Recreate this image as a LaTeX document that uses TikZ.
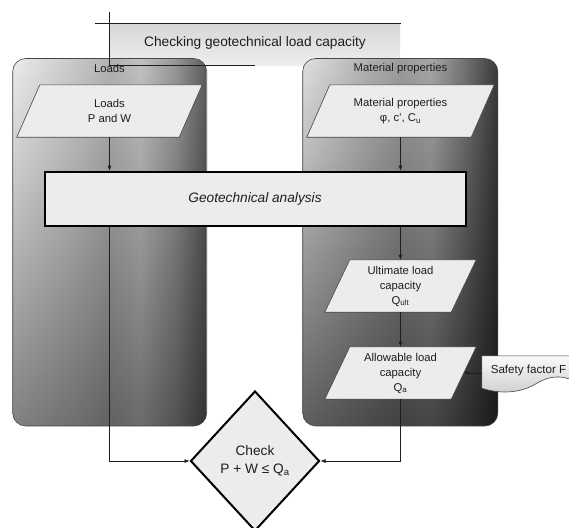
\documentclass[tikz,border=0pt]{standalone}
\usepackage{fontspec}
\setmainfont{Liberation Sans}
\usetikzlibrary{arrows.meta,shapes.geometric,fadings,calc}

\pgfdeclarelayer{lanes}
\pgfdeclarelayer{fills}
\pgfsetlayers{lanes,fills,main}

\definecolor{ink}{RGB}{30,30,30}
\definecolor{shapefill}{RGB}{236,236,236}
\definecolor{rim}{RGB}{70,70,70}

% left lane, left to right
\definecolor{la}{RGB}{236,236,236}
\definecolor{lb}{RGB}{198,198,198}
\definecolor{lc}{RGB}{178,178,178}
\definecolor{ld}{RGB}{194,194,194}
\definecolor{le}{RGB}{150,150,150}
\definecolor{lf}{RGB}{92,92,92}
\pgfdeclarehorizontalshading{loadlane}{100bp}{color(0bp)=(la); color(25bp)=(la); color(42bp)=(lb); color(50bp)=(lc); color(58bp)=(ld); color(67bp)=(le); color(75bp)=(lf); color(100bp)=(lf)}

% right lane, left to right
\definecolor{ra}{RGB}{224,224,224}
\definecolor{rb}{RGB}{176,176,176}
\definecolor{rc}{RGB}{156,156,156}
\definecolor{rd}{RGB}{166,166,166}
\definecolor{re}{RGB}{112,112,112}
\definecolor{rf}{RGB}{58,58,58}
\pgfdeclarehorizontalshading{matlane}{100bp}{color(0bp)=(ra); color(25bp)=(ra); color(42bp)=(rb); color(50bp)=(rc); color(58bp)=(rd); color(67bp)=(re); color(75bp)=(rf); color(100bp)=(rf)}

\tikzfading[name=darkenL, top color=transparent!100, bottom color=transparent!55]
\tikzfading[name=darkenR, top color=transparent!100, bottom color=transparent!42]

\begin{document}
\begin{tikzpicture}[x=1pt,y=-1pt,
  txt/.style={font=\fontsize{11.3}{15}\selectfont, text=ink, align=center},
  paranode/.style={txt, inner sep=0pt},
  flow/.style={draw=ink, line width=0.6pt, -{Latex[length=5pt,width=4pt]}},
  paraedge/.style={draw=rim, line width=0.6pt, fill=shapefill},
  lanebox/.style={rounded corners=13pt},
  bannerline/.style={draw=ink, line width=0.8pt}
]
\useasboundingbox (0,0) rectangle (569,527);

% swimlanes and the title banner
\begin{pgfonlayer}{lanes}
  \fill[top color=gray!32, bottom color=gray!14] (109,23.3) rectangle (400,65);
  \path[lanebox, shading=loadlane] (12.7,58.5) rectangle (206.7,426);
  \fill[lanebox, black, path fading=darkenL] (12.7,58.5) rectangle (206.7,426);
  \draw[lanebox, draw=rim, line width=0.6pt] (12.7,58.5) rectangle (206.7,426);
  \path[lanebox, shading=matlane] (302.7,58.5) rectangle (497.8,426);
  \fill[lanebox, black, path fading=darkenR] (302.7,58.5) rectangle (497.8,426);
  \draw[lanebox, draw=rim, line width=0.6pt] (302.7,58.5) rectangle (497.8,426);
\end{pgfonlayer}

\draw[bannerline] (109,11.7) -- (109,65);
\draw[bannerline] (95,23.3) -- (401,23.3);
\draw[bannerline] (109,65) -- (255,65);
\node[font=\fontsize{13.7}{16}\selectfont, text=ink] (title) at (255,43.3) {Checking geotechnical load capacity};

\node[txt] (laneL) at (109.5,68.5) {Loads};
\node[txt] (laneR) at (400.5,68.5) {Material properties};

% flow nodes
\node[paranode, minimum width=162pt, minimum height=52pt] (loads) at (109.5,111) {Loads\\P and W};
\node[paranode, minimum width=164pt, minimum height=52pt] (matin) at (400.5,111) {Material properties\\φ, c’, C\textsubscript{u}};
\node[draw=black, line width=2pt, fill=shapefill, minimum width=421pt, minimum height=54pt,
      font=\fontsize{13.7}{16}\selectfont\itshape, text=ink] (geo) at (255,198.7) {Geotechnical analysis};
\node[paranode, minimum width=126pt, minimum height=52pt] (ult) at (400.5,286) {Ultimate load\\capacity\\Q\textsubscript{ult}};
\node[paranode, minimum width=126pt, minimum height=52pt] (allow) at (400.5,373) {Allowable load\\capacity\\Q\textsubscript{a}};
\node[txt, font=\fontsize{11.6}{14}\selectfont, inner sep=0pt, minimum width=93pt, minimum height=28pt] (safety) at (528.5,370) {Safety factor F};
\node[diamond, draw=black, line width=2pt, fill=shapefill, minimum width=129pt, minimum height=140pt,
      inner sep=0pt, align=center, text=ink, font=\fontsize{13.7}{18}\selectfont] (check) at (255,461) {Check\\P + W ≤ Q\textsubscript{a}};

% parallelogram and document outlines behind their texts
\begin{pgfonlayer}{fills}
  \foreach \n/\s in {loads/11.5, matin/11.5, ult/12.5, allow/12.5}{
    \path[paraedge] ([xshift=\s pt]\n.north west) -- ([xshift=\s pt]\n.north east)
      -- ([xshift=-\s pt]\n.south east) -- ([xshift=-\s pt]\n.south west) -- cycle;
  }
  \path[draw=rim, line width=0.6pt, top color=white!96!gray, bottom color=gray!38]
    (safety.north west) -- (safety.north east) -- ([yshift=3pt]safety.south east)
    .. controls ([xshift=-15pt,yshift=10pt]safety.south east) and ([xshift=-27pt,yshift=8pt]safety.south east) .. ([xshift=-40pt]safety.south east)
    .. controls ([xshift=-55pt,yshift=-9pt]safety.south east) and ([xshift=18pt,yshift=-10pt]safety.south west) .. ([yshift=-4pt]safety.south west)
    -- cycle;
\end{pgfonlayer}

% connectors
\draw[flow] (loads.south) -- (loads.south |- geo.north);
\draw[flow] (matin.south) -- (matin.south |- geo.north);
\draw[flow] (ult.north |- geo.south) -- (ult.north);
\draw[flow] (ult.south) -- (allow.north);
\draw[flow] (safety.west |- allow.east) -- (allow.east);
\draw[flow] (loads.south |- geo.south) -- (loads.south |- check.west) -- (check.west);
\draw[flow] (allow.south) -- (allow.south |- check.east) -- (check.east);
\end{tikzpicture}
\end{document}
